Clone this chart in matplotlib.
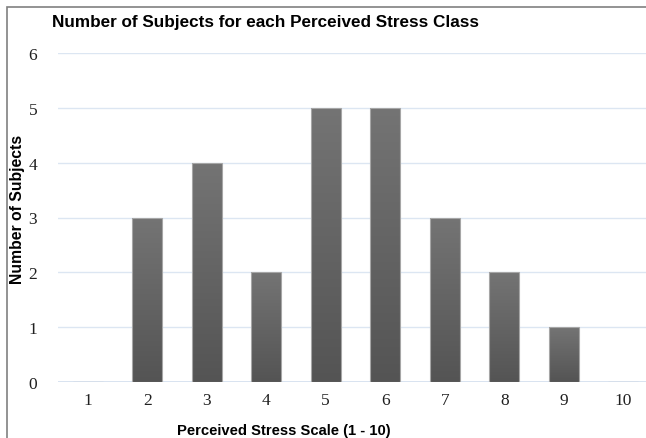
import matplotlib
matplotlib.use('Agg')
import matplotlib.pyplot as plt
import numpy as np
from matplotlib.patches import Rectangle

# Perceived stress class and how many subjects fell in each one
stress_classes = [1, 2, 3, 4, 5, 6, 7, 8, 9, 10]
subject_counts = [0, 3, 4, 2, 5, 5, 3, 2, 1, 0]
y_ticks = [0, 1, 2, 3, 4, 5, 6]

W, H = 646, 439
fig = plt.figure(figsize=(W / 100, H / 100), dpi=100)

# outer frame (only the top and left edges fall inside the image)
fig.add_artist(Rectangle((7 / W, -0.1), 1.2, 1 - 8 / H + 0.1, transform=fig.transFigure,
                         fill=False, edgecolor='#808080', linewidth=1.2))

# axes spans x = 0.5 .. 10.5, the right part runs past the figure edge
ax_left, ax_right = 58 / W, 653 / W
ax_bottom, ax_top = (H - 383) / H, (H - 54) / H
ax = fig.add_axes([ax_left, ax_bottom, ax_right - ax_left, ax_top - ax_bottom])

for s in ax.spines.values():
    s.set_visible(False)

ax.set_yticks(y_ticks)
ax.yaxis.grid(True, color='#dce6f2', linewidth=1.0)
ax.set_axisbelow(True)
ax.axhline(0, color='#d3dfee', linewidth=1.2, zorder=1)

bars = ax.bar(stress_classes, subject_counts, width=0.5, color='none',
              edgecolor='#a6a6a6', linewidth=0.8, zorder=3)

# vertical grey gradient inside each bar: lighter on top, darker at the base
grad = np.linspace(0, 1, 256).reshape(-1, 1)
cmap = matplotlib.colors.LinearSegmentedColormap.from_list('bar', ['#545454', '#747474'])
for b in bars:
    h = b.get_height()
    if h <= 0:
        continue
    x0 = b.get_x()
    im = ax.imshow(grad, extent=(x0, x0 + b.get_width(), 0, h), origin='lower',
                   cmap=cmap, aspect='auto', zorder=2)
    im.set_clip_path(b)
ax.set_xlim(0.5, 10.5)
ax.set_ylim(0, 6)

serif = ['Liberation Serif', 'DejaVu Serif']
ax.set_xticks(stress_classes)
ax.set_xticklabels([str(c) for c in stress_classes], family=serif, fontsize=12.5)
ax.set_yticklabels([str(t) for t in y_ticks], family=serif, fontsize=12.5)
ax.tick_params(axis='both', length=0, colors='#202020')
ax.tick_params(axis='x', pad=7)
ax.tick_params(axis='y', pad=15)

bold = dict(family=['Liberation Sans', 'DejaVu Sans'], fontweight='bold', color='black')
fig.text(265 / W, 1 - 23 / H, 'Number of Subjects for each Perceived Stress Class',
         ha='center', va='center', fontsize=12.3, **bold)
fig.text(18 / W, 1 - 209 / H, 'Number of Subjects', rotation=90,
         ha='center', va='center', fontsize=11.3, **bold)
fig.text(284 / W, 1 - 431 / H, 'Perceived Stress Scale (1 - 10)',
         ha='center', va='center', fontsize=10.6, **bold)

plt.savefig('out.png', dpi=100)
